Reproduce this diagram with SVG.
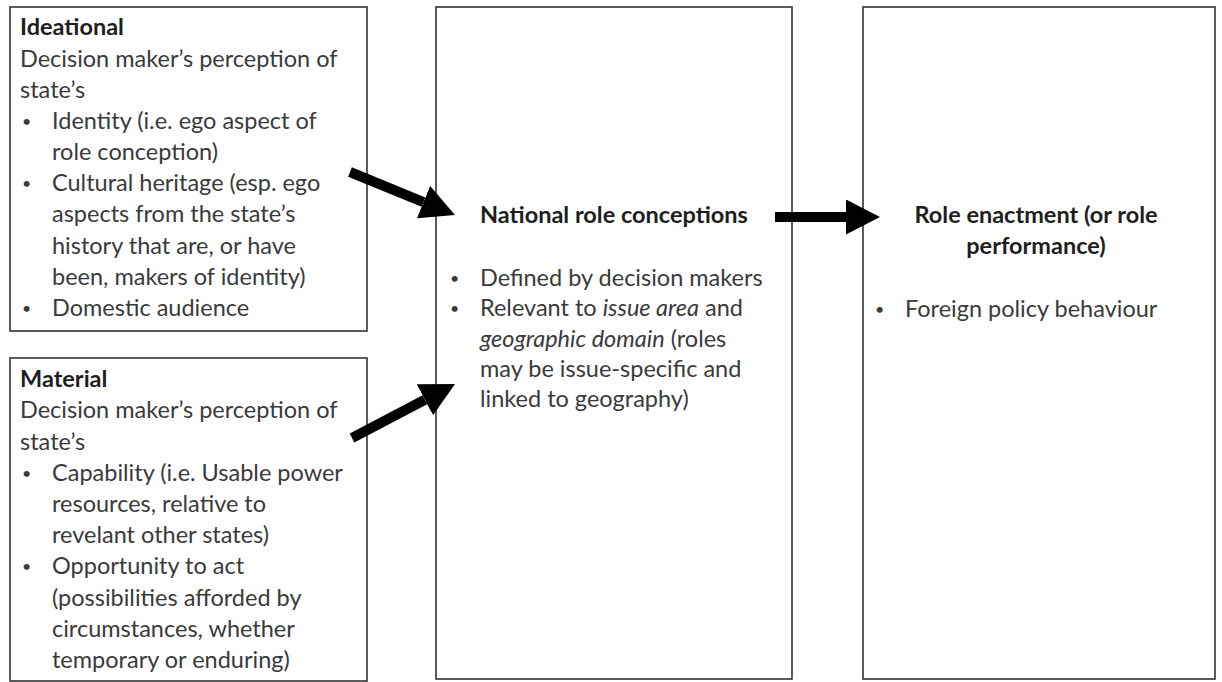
<svg xmlns="http://www.w3.org/2000/svg" width="1222" height="682" viewBox="0 0 1222 682">
<style>
.box{fill:#fff;stroke:#333;stroke-width:1.6}
text{font-family:Lato,"Open Sans",sans-serif;font-size:23.5px;fill:#3a3a3a}
.h{font-weight:bold;fill:#1e1e1e}
.b{font-size:16px}
.c{stroke:#000;stroke-width:10;fill:none}
</style>
<defs>
<marker id="ah" markerUnits="userSpaceOnUse" markerWidth="36" markerHeight="36" refX="0" refY="17.5" orient="auto" viewBox="0 0 36 36">
<path d="M0,0 L34,17.5 L0,35 z" fill="#000"/>
</marker>
</defs>
<rect width="1222" height="682" fill="#fff"/>
<g id="ideational">
<rect class="box" x="10" y="7" width="357" height="324"/>
<text class="h" x="20" y="35">Ideational</text>
<text x="20" y="67">Decision maker’s perception of</text>
<text x="20" y="98">state’s</text>
<text class="b" x="22" y="127">•</text><text x="52" y="129">Identity (i.e. ego aspect of</text>
<text x="52" y="160">role conception)</text>
<text class="b" x="22" y="189">•</text><text x="52" y="191">Cultural heritage (esp. ego</text>
<text x="52" y="222">aspects from the state’s</text>
<text x="52" y="254">history that are, or have</text>
<text x="52" y="285">been, makers of identity)</text>
<text class="b" x="22" y="314">•</text><text x="52" y="316">Domestic audience</text>
</g>
<g id="material">
<rect class="box" x="10" y="358" width="357" height="323"/>
<text class="h" x="20" y="387">Material</text>
<text x="20" y="418">Decision maker’s perception of</text>
<text x="20" y="450">state’s</text>
<text class="b" x="22" y="479">•</text><text x="52" y="481">Capability (i.e. Usable power</text>
<text x="52" y="512">resources, relative to</text>
<text x="52" y="543">revelant other states)</text>
<text class="b" x="22" y="572">•</text><text x="52" y="574">Opportunity to act</text>
<text x="52" y="606">(possibilities afforded by</text>
<text x="52" y="637">circumstances, whether</text>
<text x="52" y="668">temporary or enduring)</text>
</g>
<g id="national">
<rect class="box" x="436" y="7" width="356" height="672"/>
<text class="h" x="480" y="223">National role conceptions</text>
<text class="b" x="450" y="284">•</text><text x="480" y="286">Defined by decision makers</text>
<text class="b" x="450" y="314">•</text><text x="480" y="316">Relevant to <tspan font-style="italic">issue area</tspan> and</text>
<text x="480" y="347"><tspan font-style="italic">geographic  domain</tspan> (roles</text>
<text x="480" y="377">may be issue-specific and</text>
<text x="480" y="407">linked to geography)</text>
</g>
<g id="enactment">
<rect class="box" x="863" y="7" width="352" height="672"/>
<text class="h" x="1036" y="223" text-anchor="middle">Role enactment (or role</text>
<text class="h" x="1036" y="254" text-anchor="middle">performance)</text>
<text class="b" x="875" y="315">•</text><text x="905" y="317">Foreign policy behaviour</text>
</g>
<g id="connectors">
<line class="c" x1="350" y1="172" x2="423.5" y2="202.1" marker-end="url(#ah)"/>
<line class="c" x1="352" y1="438" x2="424.9" y2="399.8" marker-end="url(#ah)"/>
<line class="c" x1="775" y1="217" x2="846" y2="217" marker-end="url(#ah)"/>
</g>
</svg>
